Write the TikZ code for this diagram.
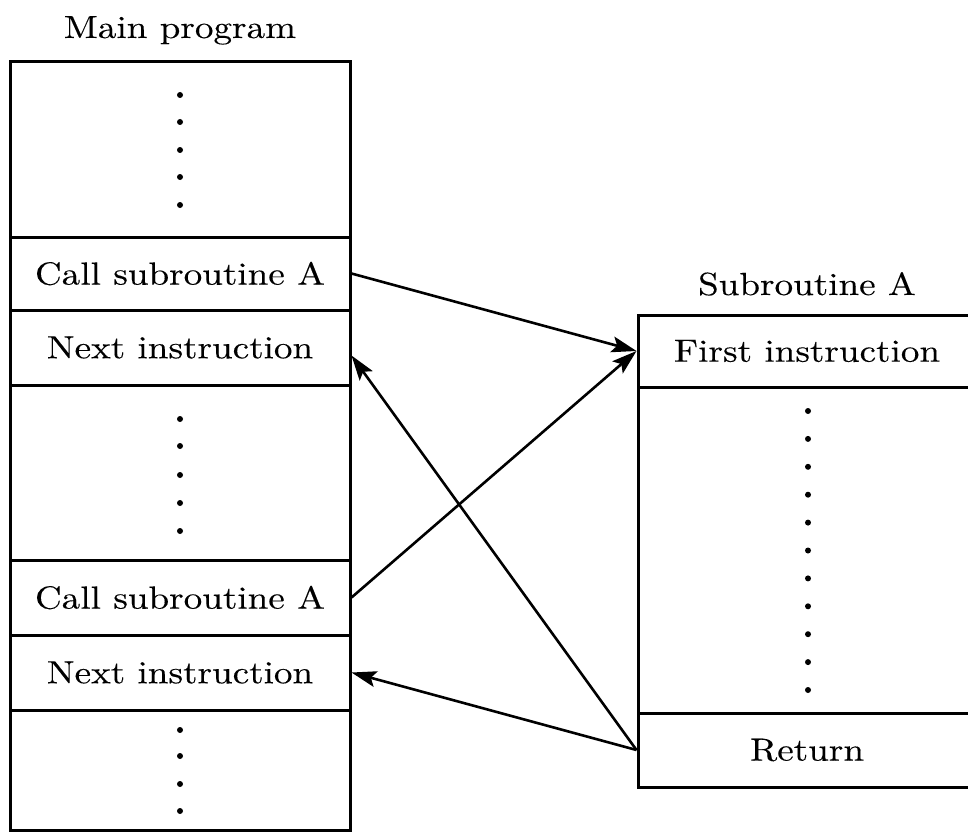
\documentclass[tikz,border=0pt]{standalone}
\usepackage{fontspec}
\usepackage{tikz}
\usetikzlibrary{positioning,arrows.meta}
\newfontfamily\boxfont{lmroman10-regular.otf}[FakeStretch=1.16,FakeBold=0.2]

\begin{document}
\begin{tikzpicture}[
    x=1pt, y=-1pt,
    instr/.style={draw, line width=3pt, minimum width=340pt, inner sep=0pt, font=\boxfont\fontsize{32}{40}\selectfont},
    heading/.style={anchor=base, font=\boxfont\fontsize{32}{40}\selectfont},
    jump/.style={line width=2.6pt, -{Stealth[length=25pt,width=16pt,inset=5pt]}}
]
    \useasboundingbox (0,0) rectangle (968,832);

    % main program
    \node[heading] (mainlbl) at (180,38) {Main program};
    \node[instr, minimum height=175pt] (dots1) at (180,149.5) {};
    \node[instr, minimum height=73pt] (call1) at (180,273.5) {Call subroutine A};
    \node[instr, minimum height=75pt] (next1) at (180,347.5) {Next instruction};
    \node[instr, minimum height=175pt] (dots2) at (180,472.5) {};
    \node[instr, minimum height=75pt] (call2) at (180,597.5) {Call subroutine A};
    \node[instr, minimum height=75pt] (next2) at (180,672.5) {Next instruction};
    \node[instr, minimum height=120pt] (dots3) at (180,770) {};

    % subroutine
    \node[heading] (sublbl) at (807,295) {Subroutine A};
    \node[instr, minimum width=338pt, minimum height=72pt] (first) at (807,351) {First instruction};
    \node[instr, minimum width=338pt, minimum height=326pt] (subdots) at (807,550) {};
    \node[instr, minimum width=338pt, minimum height=74pt] (ret) at (807,750) {Return};

    \foreach \y in {95,122,150,177,205,419,446,475,503,531,730,756,784,811}
        \fill (180,\y) circle (3pt);
    \foreach \k in {0,...,10}
        \fill (808,411+27.9*\k) circle (3pt);

    \draw[jump] (call1.east) -- (first.west);
    \draw[jump] (call2.east) -- (first.west);
    \draw[jump] (ret.west) -- ([yshift=-8pt]next1.east);
    \draw[jump] (ret.west) -- (next2.east);
\end{tikzpicture}
\end{document}
